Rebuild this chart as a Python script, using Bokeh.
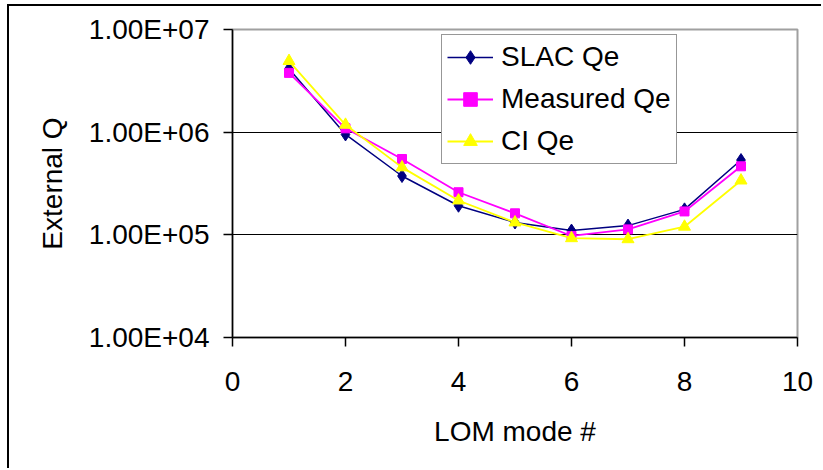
from bokeh.plotting import figure
from bokeh.models import FixedTicker, Legend, LegendItem
from bokeh.embed import file_html
from bokeh.resources import INLINE

modes = [1, 2, 3, 4, 5, 6, 7, 8, 9]
slac_qe = [4.15e6, 9.5e5, 3.74e5, 1.92e5, 1.32e5, 1.10e5, 1.23e5, 1.77e5, 5.35e5]
measured_qe = [3.78e6, 1.09e6, 5.48e5, 2.6e5, 1.62e5, 9.75e4, 1.13e5, 1.69e5, 4.65e5]
ci_qe = [4.93e6, 1.18e6, 4.54e5, 2.16e5, 1.32e5, 9.27e4, 9.06e4, 1.20e5, 3.38e5]

x_ticks = [0, 2, 4, 6, 8, 10]
y_ticks = [10000, 100000, 1000000, 10000000]
y_tick_labels = ["1.00E+04", "1.00E+05", "1.00E+06", "1.00E+07"]

FONT = "Liberation Sans"
FS = "28px"

p = figure(width=814, height=464, y_axis_type="log",
           x_range=(0, 10), y_range=(1e4, 1e7),
           output_backend="svg", toolbar_location=None,
           min_border_left=223, min_border_right=26,
           min_border_top=23, min_border_bottom=133)
p.styles = {"border-top": "2px solid #000000", "border-left": "2px solid #000000",
            "margin-left": "7px", "margin-top": "4px"}

p.outline_line_color = "#a0a0a0"
p.outline_line_width = 2
p.background_fill_color = "white"
p.border_fill_color = "white"

p.xgrid.visible = False
p.ygrid.ticker = FixedTicker(ticks=y_ticks[1:3])
p.ygrid.grid_line_color = "#000000"
p.ygrid.grid_line_width = 1

p.xaxis.ticker = FixedTicker(ticks=x_ticks)
p.yaxis.ticker = FixedTicker(ticks=y_ticks)
p.yaxis.major_label_overrides = {t: l for t, l in zip(y_ticks, y_tick_labels)}

for ax in (p.xaxis[0], p.yaxis[0]):
    ax.axis_line_color = "#000000"
    ax.axis_line_width = 1.5
    ax.major_tick_line_color = "#000000"
    ax.major_tick_line_width = 1.5
    ax.major_tick_out = 9
    ax.major_tick_in = 0
    ax.minor_tick_line_color = None
    ax.major_label_text_font = FONT
    ax.major_label_text_font_size = FS
    ax.major_label_text_color = "#000000"
    ax.axis_label_text_font = FONT
    ax.axis_label_text_font_size = FS
    ax.axis_label_text_font_style = "normal"
    ax.axis_label_text_color = "#000000"

p.xaxis.axis_label = "LOM mode #"
p.yaxis.axis_label = "External Q"
p.xaxis.major_label_standoff = 25
p.yaxis.major_label_standoff = 14
p.xaxis.axis_label_standoff = 22
p.yaxis.axis_label_standoff = 18

l1 = p.line(modes, slac_qe, line_color="#000080", line_width=1.5)
m1 = p.scatter(modes, slac_qe, marker="diamond", size=13, fill_color="#000080", line_color="#000080")
l2 = p.line(modes, measured_qe, line_color="#ff00ff", line_width=1.8)
m2 = p.scatter(modes, measured_qe, marker="square", size=9, fill_color="#ff00ff", line_color="#ff00ff")
l3 = p.line(modes, ci_qe, line_color="#ffff00", line_width=1.8)
m3 = p.scatter(modes, ci_qe, marker="triangle", size=12, fill_color="#ffff00", line_color="#ffff00")

legend = Legend(items=[
    LegendItem(label="SLAC Qe", renderers=[l1, m1]),
    LegendItem(label="Measured Qe", renderers=[l2, m2]),
    LegendItem(label="CI Qe", renderers=[l3, m3]),
], location=(209, 173))
legend.label_text_font = FONT
legend.label_text_font_size = FS
legend.label_text_color = "#000000"
legend.glyph_width = 46
legend.glyph_height = 34
legend.label_height = 34
legend.label_standoff = 8
legend.spacing = 8
legend.padding = 5
legend.margin = 0
legend.border_line_color = "#303030"
legend.border_line_width = 1.5
legend.background_fill_color = "white"
legend.background_fill_alpha = 1.0
p.add_layout(legend, "center")

open("out.html", "w").write(file_html(p, INLINE))
